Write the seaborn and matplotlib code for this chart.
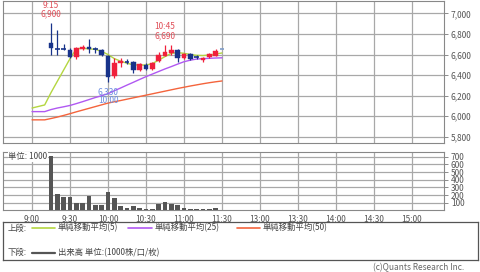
import numpy as np
import pandas as pd
import seaborn as sns
import matplotlib
matplotlib.use("Agg")
import matplotlib.pyplot as plt
from matplotlib.lines import Line2D
from matplotlib.patches import Rectangle

sns.set_theme(style="white")
plt.rcParams['font.family'] = ['Noto Sans CJK JP', 'DejaVu Sans']

# ---- data ----
tick_labels = ['9:00', '9:30', '10:00', '10:30', '11:00', '11:30',
               '13:00', '13:30', '14:00', '14:30', '15:00']
tick_pos = [0, 6, 12, 18, 24, 30, 36, 42, 48, 54, 60]

# 5-minute bars, slot index (9:00 = 0); 9:15 .. 11:30
candle_idx = list(range(3, 31))
opens  = [6709, 6660, 6655, 6644, 6579, 6654, 6676, 6651, 6644, 6590,
          6392, 6515, 6530, 6530, 6450, 6498, 6457, 6540, 6589, 6618,
          6644, 6564, 6602, 6579, 6547, 6573, 6589, 6654]
closes = [6660, 6655, 6650, 6579, 6660, 6676, 6651, 6651, 6596, 6380,
          6515, 6540, 6530, 6450, 6508, 6457, 6521, 6596, 6628, 6644,
          6564, 6605, 6557, 6579, 6564, 6605, 6637, 6654]
highs  = [6903, 6838, 6699, 6660, 6670, 6690, 6748, 6676, 6655, 6600,
          6563, 6563, 6555, 6540, 6520, 6515, 6530, 6628, 6690, 6692,
          6655, 6615, 6612, 6600, 6575, 6615, 6650, 6654]
lows   = [6596, 6596, 6644, 6564, 6557, 6640, 6612, 6612, 6590, 6330,
          6369, 6482, 6505, 6418, 6440, 6445, 6450, 6530, 6585, 6600,
          6530, 6555, 6550, 6560, 6530, 6565, 6585, 6654]
volume = [710, 210, 170, 170, 94, 94, 188, 71, 71, 244,
          158, 58, 37, 58, 37, 19, 19, 80, 115, 80,
          67, 37, 19, 19, 15, 15, 30, 0]

ma_idx = list(range(0, 31))
ma5  = [6080, 6095, 6110, 6230, 6340, 6450, 6560, 6655, 6660, 6655,
        6650, 6630, 6600, 6560, 6535, 6515, 6500, 6498, 6498, 6512,
        6545, 6580, 6612, 6618, 6612, 6600, 6592, 6590, 6595, 6605, 6615]
ma25 = [6045, 6045, 6045, 6065, 6080, 6092, 6105, 6123, 6142, 6162,
        6182, 6200, 6220, 6248, 6275, 6303, 6330, 6358, 6385, 6410,
        6435, 6460, 6483, 6507, 6530, 6545, 6556, 6560, 6563, 6566, 6568]
ma50 = [5965, 5965, 5965, 5978, 5992, 6008, 6025, 6043, 6060, 6077,
        6094, 6111, 6128, 6141, 6153, 6166, 6179, 6192, 6205, 6218,
        6231, 6244, 6257, 6270, 6282, 6294, 6305, 6316, 6326, 6335, 6343]

price_ticks = [5800, 6000, 6200, 6400, 6600, 6800, 7000]
vol_ticks = [100, 200, 300, 400, 500, 600, 700]

C5, C25, C50 = '#b4d640', '#b058f2', '#f4643c'
RED, BLUE = '#f0203c', '#18338a'
GRID = '#a8a8a8'
TXT = '#444444'

W, H = 480, 272
fig = plt.figure(figsize=(W / 100, H / 100), dpi=100)

def frac(x0, y0, x1, y1):
    return [x0 / W, 1 - y1 / H, (x1 - x0) / W, (y1 - y0) / H]

XL = (-4.63, 65.05)

# ---- top panel ----
ax = fig.add_axes(frac(2.7, 0.5, 444, 143))
ax.set_xlim(*XL)
ax.set_ylim(5740, 7125)
for t in tick_pos:
    ax.axvline(t, color=GRID, lw=0.9, zorder=0)
for p in price_ticks:
    ax.axhline(p, color=GRID, lw=0.9, zorder=0)

ma_df = pd.DataFrame({'idx': ma_idx, 'ma5': ma5, 'ma25': ma25, 'ma50': ma50})
sns.lineplot(data=ma_df, x='idx', y='ma50', color=C50, lw=1.0, ax=ax, zorder=2)
sns.lineplot(data=ma_df, x='idx', y='ma25', color=C25, lw=1.0, ax=ax, zorder=2)
sns.lineplot(data=ma_df, x='idx', y='ma5', color=C5, lw=1.0, ax=ax, zorder=3)

bw = 0.72
for i, (x, o, c, h, l) in enumerate(zip(candle_idx, opens, closes, highs, lows)):
    if i == len(candle_idx) - 1:
        ax.hlines(c, x - bw / 2, x + bw / 2, color='#7f9cc8', lw=1.2, zorder=4)
        continue
    col = RED if c > o else BLUE
    ax.vlines(x, l, h, color=col, lw=0.9, zorder=4)
    lo, hi = min(o, c), max(o, c)
    if hi - lo < 8:
        ax.hlines((o + c) / 2, x - bw / 2, x + bw / 2, color=col, lw=1.2, zorder=5)
    else:
        ax.add_patch(Rectangle((x - bw / 2, lo), bw, hi - lo, facecolor=col,
                               edgecolor=col, lw=0.3, zorder=5))

def mark(x, y, top, bottom, above, col):
    s = 1 if above else -1
    ax.annotate(bottom, (x, y), xytext=(0, s * 6.7), textcoords='offset points',
                ha='center', va='center', fontsize=6, color=col)
    ax.annotate(top, (x, y), xytext=(0, s * 13.2), textcoords='offset points',
                ha='center', va='center', fontsize=6, color=col)

mark(3, 6903, '9:15', '6,900', True, '#e0505a')
mark(21, 6692, '10:45', '6,690', True, '#e0505a')
mark(12, 6330, '10:00', '6,330', False, '#6b8de0')

ax.yaxis.tick_right()
ax.set_yticks(price_ticks)
ax.set_yticklabels([f'{p:,}' for p in price_ticks], fontsize=6, color='#555555')
ax.set_xticks([])
ax.tick_params(axis='y', which='both', right=True, length=3, width=0.6,
               color='#777777', pad=2)
ax.set_xlabel('')
ax.set_ylabel('')
for s in ax.spines.values():
    s.set_color('#888888')
    s.set_linewidth(0.8)

# ---- volume panel ----
av = fig.add_axes(frac(2.7, 151.7, 444, 210.4))
av.set_xlim(*XL)
av.set_ylim(0, 766)
for t in tick_pos:
    av.axvline(t, color=GRID, lw=0.9, zorder=0)
for p in vol_ticks:
    av.axhline(p, color=GRID, lw=0.9, zorder=0)
vol_df = pd.DataFrame({'idx': candle_idx, 'vol': volume})
sns.barplot(data=vol_df, x='idx', y='vol', native_scale=True, color='#555555',
            width=0.7, saturation=1, linewidth=0, edgecolor='none',
            ax=av, zorder=3)
av.set_xlim(*XL)
av.yaxis.tick_right()
av.set_yticks(vol_ticks)
av.set_yticklabels([str(v) for v in vol_ticks], fontsize=6, color='#555555')
av.set_xticks(tick_pos)
av.set_xticklabels(tick_labels, fontsize=6, color='#555555')
av.tick_params(axis='y', right=True, length=3, width=0.6, color='#777777', pad=2)
av.tick_params(axis='x', bottom=False, pad=-2.5)
av.set_xlabel('')
av.set_ylabel('')
for s in av.spines.values():
    s.set_color('#888888')
    s.set_linewidth(0.8)
av.text(0.012, 0.915, '単位: 1000', transform=av.transAxes, fontsize=6,
        color=TXT, va='center', ha='left', zorder=6,
        bbox=dict(facecolor='white', edgecolor='none', pad=0.3))

# ---- legend box ----
lg = fig.add_axes(frac(2.7, 221.7, 478, 260))
lg.set_xlim(2.7, 478)
lg.set_ylim(260, 221.7)
lg.set_xticks([])
lg.set_yticks([])
for s in lg.spines.values():
    s.set_color('#555555')
    s.set_linewidth(0.9)
fs = 6
lg.text(8, 228, '上段:', fontsize=fs, va='center', color=TXT)
lg.add_line(Line2D([32, 55], [228, 228], color=C5, lw=1.2))
lg.text(58, 228, '単純移動平均(5)', fontsize=fs, va='center', color=TXT)
lg.add_line(Line2D([128, 152], [228, 228], color=C25, lw=1.2))
lg.text(155, 228, '単純移動平均(25)', fontsize=fs, va='center', color=TXT)
lg.add_line(Line2D([237, 260], [228, 228], color=C50, lw=1.2))
lg.text(263, 228, '単純移動平均(50)', fontsize=fs, va='center', color=TXT)
lg.text(8, 252.7, '下段:', fontsize=fs, va='center', color=TXT)
lg.add_line(Line2D([32, 55], [252.7, 252.7], color='#555555', lw=1.6))
lg.text(58, 252.7, '出来高 単位:(1000株/口/枚)', fontsize=fs, va='center',
        color=TXT)

fig.text(464 / W, 1 - 268 / H, '(c)Quants Research Inc.', fontsize=6,
         color='#666666', ha='right', va='center')

fig.savefig('out.png', dpi=100)
